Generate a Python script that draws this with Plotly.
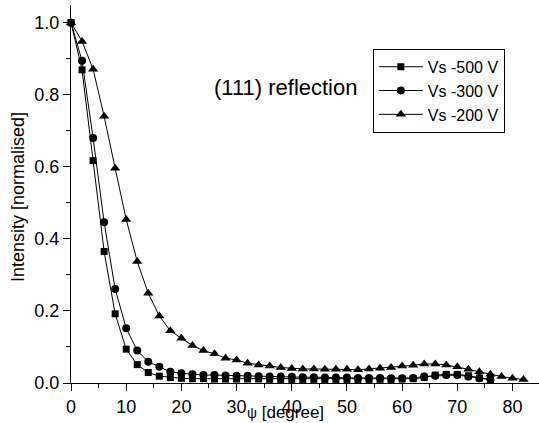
import plotly.graph_objects as go

# angle psi [degree]
psi_200 = list(range(0, 84, 2))          # 0..82
psi_300 = list(range(0, 78, 2))          # 0..76
psi_500 = list(range(0, 78, 2))          # 0..76

vs_500 = [1.0, 0.869, 0.617, 0.365, 0.192, 0.094, 0.051, 0.029, 0.019, 0.015,
          0.013, 0.012, 0.012, 0.011, 0.011, 0.011, 0.011, 0.011, 0.010, 0.010,
          0.010, 0.010, 0.010, 0.010, 0.010, 0.010, 0.010, 0.010, 0.010, 0.010,
          0.011, 0.012, 0.015, 0.022, 0.024, 0.024, 0.020, 0.014, 0.009]

vs_300 = [1.0, 0.894, 0.680, 0.446, 0.261, 0.152, 0.090, 0.059, 0.045, 0.031,
          0.027, 0.024, 0.022, 0.022, 0.021, 0.020, 0.020, 0.019, 0.018, 0.018,
          0.017, 0.016, 0.016, 0.015, 0.015, 0.015, 0.014, 0.014, 0.014, 0.013,
          0.013, 0.014, 0.018, 0.020, 0.022, 0.022, 0.018, 0.013, 0.010]

vs_200 = [1.0, 0.948, 0.871, 0.740, 0.596, 0.454, 0.337, 0.249, 0.186, 0.145,
          0.124, 0.104, 0.090, 0.081, 0.069, 0.064, 0.055, 0.050, 0.047, 0.043,
          0.040, 0.039, 0.039, 0.038, 0.038, 0.038, 0.037, 0.039, 0.041, 0.043,
          0.047, 0.049, 0.053, 0.053, 0.050, 0.045, 0.038, 0.031, 0.024, 0.018,
          0.013, 0.010]

names = ["Vs -500 V", "Vs -300 V", "Vs -200 V"]
FONT = "Liberation Sans, Arial, sans-serif"

fig = go.Figure()
fig.add_trace(go.Scatter(x=psi_500, y=vs_500, name=names[0], mode="lines+markers",
                         line=dict(color="black", width=1),
                         marker=dict(symbol="square", size=7, color="black"),
                         cliponaxis=False))
fig.add_trace(go.Scatter(x=psi_300, y=vs_300, name=names[1], mode="lines+markers",
                         line=dict(color="black", width=1),
                         marker=dict(symbol="circle", size=8, color="black"),
                         cliponaxis=False))
fig.add_trace(go.Scatter(x=psi_200, y=vs_200, name=names[2], mode="lines+markers",
                         line=dict(color="black", width=1),
                         marker=dict(symbol="triangle-up", size=9, color="black"),
                         cliponaxis=False))

fig.update_layout(
    width=539, height=423,
    margin=dict(l=71, r=0, t=5, b=40),
    paper_bgcolor="white", plot_bgcolor="white",
    font=dict(family=FONT, size=16, color="black"),
    showlegend=True,
    legend=dict(x=0.645, y=0.884, xanchor="left", yanchor="top",
                bordercolor="black", borderwidth=1, bgcolor="white",
                font=dict(size=16), tracegroupgap=0, itemwidth=44),
    xaxis=dict(range=[0, 84.8], showgrid=False, zeroline=False,
               showline=True, linecolor="black", linewidth=1,
               ticks="outside", ticklen=7, tickwidth=1, tickcolor="black",
               dtick=10, tick0=0, tickfont=dict(size=18),
               minor=dict(dtick=5, ticks="outside", ticklen=4, tickcolor="black")),
    yaxis=dict(range=[0, 1.049], showgrid=False, zeroline=False,
               showline=True, linecolor="black", linewidth=1,
               ticks="outside", ticklen=7, tickwidth=1, tickcolor="black",
               dtick=0.2, tick0=0, tickformat=".1f", tickfont=dict(size=18),
               minor=dict(dtick=0.1, ticks="outside", ticklen=4, tickcolor="black")),
)

fig.add_annotation(text="(111) reflection", x=38.8, y=0.82, xref="x", yref="y",
                   showarrow=False, xanchor="center", yanchor="middle",
                   font=dict(size=22))
fig.add_annotation(text="<span style='font-size:14px'>ψ</span> [degree]",
                   x=38.8, y=-0.1045, xref="x", yref="paper",
                   showarrow=False, xanchor="center", yanchor="bottom",
                   borderpad=0, font=dict(size=17))
fig.add_annotation(text="Intensity [normalised]", x=-0.1132, y=0.492,
                   xref="paper", yref="paper", textangle=-90,
                   showarrow=False, xanchor="center", yanchor="middle",
                   font=dict(size=18))

fig.write_html("out.html")
